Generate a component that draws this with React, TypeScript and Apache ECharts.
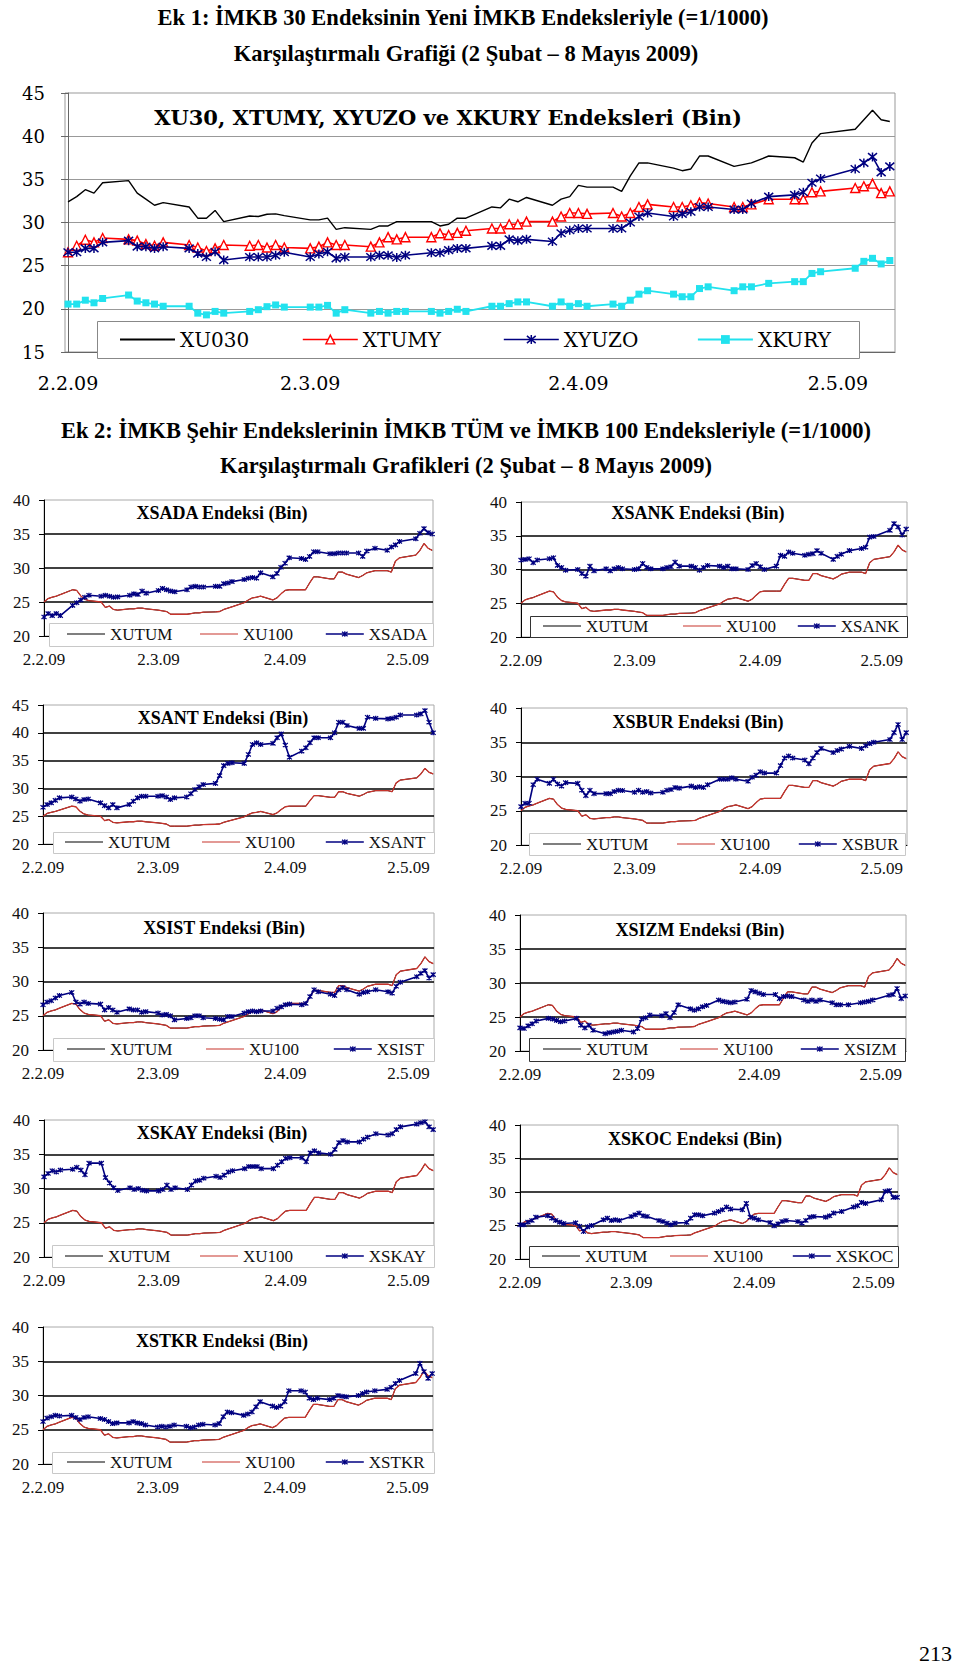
import React, { useEffect, useRef } from 'react';
import * as echarts from 'echarts';

// ---------- DATA ----------
// trading-day offsets (days after 2 Feb 2009)
const tradingDays = [0, 1, 2, 3, 4, 7, 8, 9, 10, 11, 14, 15, 16, 17, 18, 21, 22, 23, 24, 25, 28, 29, 30, 31, 32, 35, 36, 37, 38, 39, 42, 43, 44, 45, 46, 49, 50, 51, 52, 53, 56, 57, 58, 59, 60, 63, 64, 65, 66, 67, 70, 71, 72, 73, 74, 77, 78, 79, 81, 84, 85, 86, 87, 91, 92, 93, 94, 95];
const tickDays = [0, 28, 59, 89];
const tickLabels = ['2.2.09', '2.3.09', '2.4.09', '2.5.09'];

const xu030 = [32.4, 33.0, 33.8, 33.4, 34.6, 34.85, 33.4, 32.7, 32.0, 32.3, 31.8, 30.5, 30.5, 31.4, 30.1, 30.75, 30.7, 30.95, 31.0, 30.8, 30.3, 30.3, 30.5, 29.2, 29.4, 29.2, 29.6, 29.6, 30.1, 30.1, 30.1, 29.6, 29.8, 30.5, 30.5, 31.8, 31.7, 32.7, 32.4, 32.9, 32.0, 32.7, 33.0, 34.3, 34.1, 34.1, 33.6, 35.4, 36.9, 36.9, 36.3, 36.0, 36.2, 37.7, 37.7, 36.5, 36.7, 36.9, 37.7, 37.5, 37.0, 39.2, 40.3, 40.8, 41.9, 43.0, 41.9, 41.7];
const xtumy = [26.55, 27.3, 28.0, 27.7, 28.2, 28.05, 27.9, 27.5, 27.3, 27.7, 27.4, 27.1, 26.7, 27.0, 27.4, 27.3, 27.4, 27.1, 27.4, 27.1, 27.0, 27.2, 27.7, 27.4, 27.4, 27.2, 27.7, 28.3, 28.05, 28.3, 28.3, 28.75, 28.55, 28.8, 29.05, 29.3, 29.3, 29.8, 29.8, 30.1, 30.1, 30.7, 31.1, 31.1, 31.0, 31.1, 30.7, 31.1, 31.8, 32.1, 31.8, 31.8, 32.0, 32.3, 32.2, 31.8, 31.8, 32.1, 32.7, 32.7, 32.7, 33.5, 33.6, 34.0, 34.2, 34.5, 33.4, 33.6];
const xyuzo = [26.55, 26.55, 27.0, 27.0, 27.7, 27.9, 27.2, 27.2, 27.0, 27.2, 27.0, 26.4, 26.0, 26.6, 25.65, 26.0, 26.0, 26.0, 26.2, 26.55, 26.0, 26.35, 26.6, 25.85, 26.0, 26.0, 26.2, 26.2, 25.95, 26.2, 26.5, 26.5, 26.8, 27.0, 27.0, 27.3, 27.3, 28.05, 27.9, 28.05, 27.8, 28.75, 29.1, 29.3, 29.3, 29.3, 29.3, 30.0, 30.7, 31.1, 30.7, 31.0, 31.25, 31.8, 31.8, 31.5, 31.5, 32.2, 33.0, 33.2, 33.5, 34.6, 35.1, 36.2, 36.9, 37.6, 35.8, 36.5];
const xkury = [20.55, 20.55, 21.0, 20.7, 21.2, 21.6, 20.9, 20.7, 20.55, 20.3, 20.3, 19.5, 19.3, 19.7, 19.5, 19.7, 19.9, 20.25, 20.45, 20.2, 20.2, 20.2, 20.4, 19.5, 19.9, 19.5, 19.7, 19.5, 19.7, 19.7, 19.7, 19.5, 19.7, 19.95, 19.7, 20.3, 20.3, 20.6, 20.8, 20.8, 20.3, 20.8, 20.3, 20.6, 20.3, 20.55, 20.3, 21.0, 21.7, 22.1, 21.7, 21.4, 21.4, 22.35, 22.55, 22.1, 22.55, 22.55, 22.95, 23.15, 23.15, 24.1, 24.3, 24.7, 25.5, 25.85, 25.2, 25.6];

const xu100 = [25.0, 25.5, 25.7, 25.85, 26.1, 26.8, 26.7, 25.9, 25.4, 25.2, 25.0, 24.2, 24.4, 23.9, 23.8, 24.0, 24.0, 24.1, 24.1, 24.0, 23.8, 23.7, 23.6, 23.2, 23.2, 23.2, 23.3, 23.4, 23.4, 23.5, 23.55, 23.6, 23.9, 24.1, 24.3, 24.9, 25.3, 25.6, 25.7, 25.85, 25.3, 25.6, 26.2, 26.7, 26.8, 26.8, 26.8, 27.8, 28.7, 28.7, 28.4, 28.4, 29.4, 29.4, 29.1, 28.6, 28.9, 29.3, 29.6, 29.6, 29.4, 31.0, 31.5, 31.9, 32.6, 33.6, 32.9, 32.6];
const xutum = [25.0, 25.5, 25.7, 25.85, 26.1, 26.8, 26.7, 25.9, 25.4, 25.2, 25.0, 24.2, 24.4, 23.9, 23.8, 24.0, 24.0, 24.1, 24.1, 24.0, 23.8, 23.7, 23.6, 23.2, 23.2, 23.2, 23.3, 23.4, 23.4, 23.5, 23.55, 23.6, 23.9, 24.1, 24.3, 24.9, 25.3, 25.6, 25.7, 25.85, 25.3, 25.6, 26.2, 26.7, 26.8, 26.8, 26.8, 27.8, 28.7, 28.7, 28.4, 28.4, 29.4, 29.4, 29.1, 28.6, 28.9, 29.3, 29.6, 29.6, 29.4, 31.0, 31.5, 31.9, 32.6, 33.6, 32.9, 32.6];

const xsada = [22.8, 23.3, 23.0, 23.3, 23.0, 24.5, 24.9, 25.3, 25.7, 26.0, 25.85, 26.0, 25.85, 25.7, 25.75, 26.0, 26.2, 26.1, 26.6, 26.3, 26.7, 27.0, 26.8, 26.6, 26.5, 26.8, 27.2, 27.3, 27.2, 27.2, 27.3, 27.3, 27.7, 27.8, 28.0, 28.3, 28.5, 28.6, 28.5, 29.3, 28.7, 29.2, 30.1, 30.7, 31.5, 31.4, 31.25, 31.7, 32.4, 32.4, 32.1, 32.1, 32.2, 32.2, 32.2, 32.2, 31.7, 32.5, 32.9, 32.6, 33.1, 33.4, 33.9, 34.3, 35.1, 35.8, 35.2, 35.0];
const xsank = [31.4, 31.5, 31.6, 31.0, 31.4, 31.6, 31.75, 30.6, 30.3, 29.9, 30.0, 29.4, 29.0, 30.5, 29.8, 30.1, 29.8, 30.1, 30.3, 30.1, 30.0, 30.1, 30.9, 30.3, 30.1, 30.1, 30.3, 30.4, 31.1, 30.5, 30.5, 30.3, 29.9, 30.3, 30.6, 30.5, 30.3, 30.5, 30.1, 30.1, 30.0, 30.6, 30.9, 30.4, 30.0, 30.5, 32.1, 31.95, 32.6, 32.4, 32.1, 32.25, 32.35, 32.8, 32.4, 31.5, 31.95, 32.25, 32.8, 33.1, 33.3, 34.8, 34.9, 35.8, 36.8, 36.3, 35.1, 36.0];
const xsant = [26.6, 27.1, 27.4, 27.85, 28.3, 28.45, 28.1, 27.7, 28.0, 28.1, 27.4, 26.9, 26.5, 27.1, 26.5, 27.1, 27.7, 28.3, 28.6, 28.6, 28.6, 28.7, 28.45, 28.0, 28.3, 28.45, 29.05, 29.8, 30.3, 30.7, 30.9, 32.3, 34.1, 34.5, 34.6, 34.5, 36.1, 37.9, 38.2, 37.9, 38.1, 39.1, 39.8, 37.8, 35.6, 36.7, 37.3, 38.2, 39.1, 39.1, 39.1, 40.0, 41.9, 41.9, 41.3, 40.8, 40.8, 42.8, 42.6, 42.5, 42.6, 42.8, 43.2, 43.2, 43.4, 44.0, 41.9, 40.0];
const xsbur = [25.6, 26.1, 26.1, 28.8, 29.6, 29.0, 29.6, 28.9, 28.6, 29.1, 29.0, 28.0, 27.2, 28.0, 27.5, 27.5, 27.5, 27.8, 28.0, 27.95, 27.7, 28.0, 27.7, 27.8, 27.6, 27.7, 28.0, 28.1, 28.4, 28.3, 28.6, 28.4, 28.5, 28.4, 28.8, 29.6, 29.6, 29.6, 29.8, 29.6, 29.3, 29.9, 30.2, 30.7, 30.5, 30.5, 31.6, 32.7, 33.0, 32.7, 32.4, 31.85, 32.7, 33.5, 34.1, 33.5, 33.8, 34.0, 34.4, 34.1, 34.5, 34.8, 35.0, 35.4, 36.4, 37.6, 35.4, 36.4];
const xsist = [26.6, 27.0, 27.2, 27.6, 27.95, 28.4, 27.0, 26.7, 27.0, 26.8, 26.7, 25.85, 26.2, 25.85, 25.5, 26.0, 25.85, 25.85, 25.5, 25.6, 25.4, 25.1, 25.2, 25.0, 24.4, 24.6, 24.7, 25.0, 25.0, 24.7, 24.6, 24.5, 24.4, 24.9, 24.9, 25.4, 25.6, 25.7, 25.6, 25.7, 25.7, 26.1, 26.3, 26.6, 26.7, 26.6, 26.8, 27.8, 28.8, 28.5, 28.15, 27.95, 28.8, 29.1, 28.8, 28.15, 28.4, 28.5, 28.8, 28.5, 28.3, 29.3, 29.9, 30.7, 31.2, 31.6, 30.5, 31.0];
const xsizm = [23.4, 23.3, 23.7, 24.0, 24.4, 24.8, 24.7, 24.5, 24.3, 24.4, 24.8, 23.8, 23.4, 23.8, 23.05, 22.55, 22.7, 22.8, 22.9, 23.05, 22.8, 23.3, 24.7, 24.9, 25.3, 25.2, 25.5, 24.9, 25.65, 26.8, 26.2, 26.0, 26.2, 26.5, 26.7, 27.5, 27.3, 27.2, 27.1, 27.2, 27.6, 28.9, 28.7, 28.5, 28.3, 28.3, 27.7, 28.0, 28.1, 28.0, 27.5, 27.3, 27.5, 27.3, 27.5, 27.1, 26.8, 26.8, 26.8, 27.1, 27.2, 27.3, 27.5, 28.2, 28.3, 29.2, 27.7, 28.1];
const xskay = [31.7, 32.2, 32.6, 32.4, 32.7, 32.8, 33.1, 32.7, 32.0, 33.7, 33.7, 31.6, 30.8, 30.1, 29.7, 30.1, 29.85, 30.0, 29.75, 29.65, 29.65, 29.85, 30.5, 29.85, 30.1, 29.85, 30.5, 31.1, 31.2, 31.5, 31.8, 31.6, 31.95, 32.4, 32.6, 32.9, 33.2, 33.2, 33.2, 32.9, 32.9, 33.4, 33.9, 34.4, 34.5, 34.5, 33.9, 35.2, 35.5, 35.2, 35.0, 35.7, 36.7, 37.0, 36.8, 36.8, 37.2, 37.5, 38.0, 37.8, 38.0, 38.6, 39.0, 39.4, 39.6, 39.75, 39.0, 38.6];
const xskoc = [25.1, 25.1, 25.5, 25.75, 26.25, 26.45, 26.1, 25.75, 25.5, 25.3, 25.4, 24.9, 24.1, 24.8, 25.0, 25.85, 26.1, 25.75, 25.85, 25.75, 26.35, 26.6, 26.85, 26.45, 26.35, 25.75, 25.6, 25.35, 25.1, 25.35, 25.45, 26.1, 26.6, 26.6, 26.45, 26.85, 27.1, 27.35, 27.75, 27.45, 27.35, 28.3, 26.25, 26.1, 25.85, 25.45, 24.95, 25.25, 25.6, 25.75, 25.6, 25.35, 25.75, 26.25, 26.35, 26.25, 26.45, 26.85, 27.1, 27.75, 27.95, 28.45, 28.3, 28.85, 30.1, 30.2, 29.2, 29.2];
const xstkr = [26.2, 26.7, 26.9, 27.1, 27.0, 27.1, 26.8, 26.5, 26.8, 26.9, 26.65, 26.5, 26.2, 25.9, 26.0, 26.0, 26.2, 26.0, 25.9, 25.7, 25.4, 25.5, 25.4, 25.5, 25.7, 25.5, 25.3, 25.4, 25.7, 25.8, 25.7, 25.9, 26.9, 27.6, 27.5, 27.1, 27.3, 27.6, 28.35, 29.1, 28.45, 28.25, 28.45, 29.1, 30.7, 30.7, 30.5, 29.6, 29.4, 29.6, 29.4, 29.6, 30.0, 29.9, 29.8, 30.0, 30.3, 30.5, 30.7, 30.9, 31.2, 31.75, 32.2, 33.2, 34.7, 33.5, 32.5, 33.2];

const sectorNames = ['XSADA', 'XSANK', 'XSANT', 'XSBUR', 'XSIST', 'XSIZM', 'XSKAY', 'XSKOC', 'XSTKR'];
const sectorValues = [xsada, xsank, xsant, xsbur, xsist, xsizm, xskay, xskoc, xstkr];
const sectorMax = [40, 40, 45, 40, 40, 40, 40, 40, 40];

// ---------- LAYOUT (page pixels) ----------
const panels = [
  { grid: [44, 500, 389, 136], title: [222, 513], lx: [67, 200, 325], ly: 634, box: [49, 623, 433, 646], bc: '#c8c8c8' },
  { grid: [521, 502, 386, 135], title: [698, 513], lx: [543, 683, 797], ly: 626, box: [530, 616, 907, 637], bc: '#333' },
  { grid: [43, 705, 391, 139], title: [223, 718], lx: [65, 202, 325], ly: 842, box: [53, 832, 434, 853], bc: '#c8c8c8' },
  { grid: [521, 708, 386, 137], title: [698, 722], lx: [543, 677, 798], ly: 844, box: [529, 833, 905, 855], bc: '#c8c8c8' },
  { grid: [43, 913, 391, 137], title: [224, 928], lx: [67, 206, 333], ly: 1049, box: [53, 1038, 434, 1061], bc: '#c8c8c8' },
  { grid: [520, 915, 386, 136], title: [700, 930], lx: [543, 680, 800], ly: 1049, box: [529, 1038, 905, 1061], bc: '#333' },
  { grid: [44, 1120, 390, 137], title: [222, 1133], lx: [65, 200, 325], ly: 1256, box: [52, 1245, 434, 1267], bc: '#c8c8c8' },
  { grid: [520, 1125, 378, 134], title: [695, 1139], lx: [542, 670, 792], ly: 1256, box: [529, 1246, 898, 1267], bc: '#333' },
  { grid: [43, 1327, 390, 137], title: [222, 1341], lx: [67, 202, 325], ly: 1462, box: [52, 1452, 434, 1473], bc: '#c8c8c8' },
];

const SERIF = 'Liberation Serif';
const WIDE = 'DejaVu Serif';
const ASTERISK = 'path://M0,0L10,10M10,0L0,10M5,-1L5,11';
const THIN = 'path://M0,0H40V1.3H0Z';
const NAVY = '#000080';
const CYAN = '#22e2ee';
const RED_S = '#c8342c';

const pairs = (vals: number[]) => tradingDays.map((d, i) => [d, vals[i]]);
const labelFor = (v: number) => {
  const k = tickDays.indexOf(Math.round(v));
  return k >= 0 ? tickLabels[k] : '';
};

function buildOption() {
  const grid: any[] = [];
  const xAxis: any[] = [];
  const yAxis: any[] = [];
  const series: any[] = [];
  const legend: any[] = [];
  const title: any[] = [];
  const graphic: any[] = [];

  // ---- top chart ----
  grid.push({ left: 65, top: 93, width: 830, height: 259, show: true, borderColor: '#999', borderWidth: 1 });
  xAxis.push({
    type: 'value', gridIndex: 0, min: -0.35, max: 95.6,
    axisLine: { show: true, onZero: false, lineStyle: { color: '#666', width: 1 } },
    axisTick: { show: false }, splitLine: { show: false },
    axisLabel: { customValues: tickDays, formatter: labelFor, fontFamily: WIDE, fontSize: 19, color: '#000', margin: 21 },
  });
  yAxis.push({
    type: 'value', gridIndex: 0, min: 15, max: 45, interval: 5,
    axisLine: { show: true, lineStyle: { color: '#666' } },
    axisTick: { show: true, length: 7, lineStyle: { color: '#666' } },
    axisLabel: { fontFamily: WIDE, fontSize: 18, color: '#000', margin: 20 },
    splitLine: { show: true, showMinLine: false, showMaxLine: false, lineStyle: { color: '#999', width: 1 } },
  });
  series.push(
    { name: 'XU030', type: 'line', xAxisIndex: 0, yAxisIndex: 0, data: pairs(xu030), symbol: 'none', lineStyle: { color: '#000', width: 1.4 }, itemStyle: { color: '#000' }, z: 2 },
    { name: 'XTUMY', type: 'line', xAxisIndex: 0, yAxisIndex: 0, data: pairs(xtumy), symbol: 'triangle', symbolSize: 9, lineStyle: { color: '#ff0000', width: 1.6 }, itemStyle: { color: '#fff', borderColor: '#ff0000', borderWidth: 1.4 }, z: 3 },
    { name: 'XYUZO', type: 'line', xAxisIndex: 0, yAxisIndex: 0, data: pairs(xyuzo), symbol: ASTERISK, symbolSize: 9, lineStyle: { color: NAVY, width: 1.6 }, itemStyle: { color: NAVY, borderColor: NAVY, borderWidth: 1.5 }, z: 4 },
    { name: 'XKURY', type: 'line', xAxisIndex: 0, yAxisIndex: 0, data: pairs(xkury), symbol: 'rect', symbolSize: 7, lineStyle: { color: CYAN, width: 1.8 }, itemStyle: { color: CYAN }, z: 3 },
  );
  graphic.push({ type: 'rect', z: 8, shape: { x: 97.5, y: 321.5, width: 762, height: 37 }, style: { fill: '#fff', stroke: '#888', lineWidth: 1 } });
  const topLegendItems = [
    { name: 'XU030', icon: THIN, itemStyle: { color: '#000', borderWidth: 0 } },
    { name: 'XTUMY', itemStyle: { color: '#fff', borderColor: '#ff0000', borderWidth: 1.4 }, lineStyle: { color: '#ff0000', width: 1.6 } },
    { name: 'XYUZO', itemStyle: { color: NAVY, borderColor: NAVY, borderWidth: 1.5 }, lineStyle: { color: NAVY, width: 1.6 } },
    { name: 'XKURY', itemStyle: { color: CYAN, borderWidth: 0 }, lineStyle: { color: CYAN, width: 1.8 } },
  ];
  const topLegendX = [120, 302, 503, 697];
  topLegendItems.forEach((it, k) => {
    legend.push({
      data: [it], left: topLegendX[k], top: 339.5 - 10, padding: 0, itemWidth: 55, itemHeight: 11,
      selectedMode: false, z: 12,
      textStyle: { fontFamily: WIDE, fontSize: 20, lineHeight: 20, color: '#000' },
    });
  });

  // ---- sector charts ----
  panels.forEach((p, i) => {
    const gi = i + 1;
    const name = sectorNames[i];
    grid.push({ left: p.grid[0], top: p.grid[1], width: p.grid[2], height: p.grid[3], show: true, borderColor: '#aaa', borderWidth: 1 });
    xAxis.push({
      type: 'value', gridIndex: gi, min: 0, max: 95.2,
      axisLine: { show: true, onZero: false, lineStyle: { color: '#000', width: 1 } },
      axisTick: { show: false }, splitLine: { show: false },
      axisLabel: { customValues: tickDays, formatter: labelFor, fontFamily: SERIF, fontSize: 17, color: '#111', margin: 15 },
    });
    yAxis.push({
      type: 'value', gridIndex: gi, min: 20, max: sectorMax[i], interval: 5,
      axisLine: { show: true, lineStyle: { color: '#000' } },
      axisTick: { show: true, length: 5, lineStyle: { color: '#000' } },
      axisLabel: { fontFamily: SERIF, fontSize: 17, color: '#111', margin: 14 },
      splitLine: { show: true, showMinLine: false, showMaxLine: false, lineStyle: { color: '#000', width: 1.6 } },
    });
    series.push(
      { name: 'XUTUM', type: 'line', xAxisIndex: gi, yAxisIndex: gi, data: pairs(xutum), symbol: 'none', lineStyle: { color: '#000', width: 1 }, itemStyle: { color: '#000' }, z: 2 },
      { name: 'XU100', type: 'line', xAxisIndex: gi, yAxisIndex: gi, data: pairs(xu100), symbol: 'none', lineStyle: { color: RED_S, width: 1.3 }, itemStyle: { color: RED_S }, z: 3 },
      { name, type: 'line', xAxisIndex: gi, yAxisIndex: gi, data: pairs(sectorValues[i]), symbol: ASTERISK, symbolSize: 5, lineStyle: { color: NAVY, width: 1.6 }, itemStyle: { color: NAVY, borderColor: NAVY, borderWidth: 1.2 }, z: 4 },
    );
    title.push({
      text: `${name} Endeksi (Bin)`, left: p.title[0], top: p.title[1] - 9, textAlign: 'center', padding: 0,
      textStyle: { fontFamily: SERIF, fontWeight: 'bold', fontSize: 18, color: '#000' },
    });
    const [bx0, by0, bx1, by1] = p.box;
    graphic.push({ type: 'rect', z: 8, shape: { x: bx0 + 0.5, y: by0 + 0.5, width: bx1 - bx0, height: by1 - by0 }, style: { fill: '#fff', stroke: p.bc, lineWidth: 1 } });
    const items = [
      { name: 'XUTUM', icon: THIN, itemStyle: { color: '#000', borderWidth: 0 } },
      { name: 'XU100', icon: THIN, itemStyle: { color: RED_S, borderWidth: 0 } },
      { name, itemStyle: { color: NAVY, borderColor: NAVY, borderWidth: 1.2 }, lineStyle: { color: NAVY, width: 1.6 } },
    ];
    items.forEach((it, k) => {
      legend.push({
        data: [it], left: p.lx[k], top: p.ly - 8.5, padding: 0, itemWidth: 38, itemHeight: 7,
        selectedMode: false, z: 12,
        textStyle: { fontFamily: SERIF, fontSize: 17, lineHeight: 17, color: '#111' },
      });
    });
  });

  // ---- headings ----
  const headStyle = { fontFamily: SERIF, fontWeight: 'bold', fontSize: 22.5, color: '#000' };
  title.push(
    { text: 'Ek 1: İMKB 30 Endeksinin Yeni İMKB Endeksleriyle (=1/1000)', left: 463, top: 17 - 11, textAlign: 'center', padding: 0, textStyle: headStyle },
    { text: 'Karşılaştırmalı Grafiği (2 Şubat – 8 Mayıs 2009)', left: 466, top: 53 - 11, textAlign: 'center', padding: 0, textStyle: headStyle },
    { text: 'XU30, XTUMY, XYUZO ve XKURY Endeksleri (Bin)', left: 448, top: 117 - 10.5, textAlign: 'center', padding: 0, textStyle: { fontFamily: WIDE, fontWeight: 'bold', fontSize: 21, color: '#000' } },
    { text: 'Ek 2: İMKB Şehir Endekslerinin İMKB TÜM ve İMKB 100 Endeksleriyle (=1/1000)', left: 466, top: 430 - 11, textAlign: 'center', padding: 0, textStyle: headStyle },
    { text: 'Karşılaştırmalı Grafikleri (2 Şubat – 8 Mayıs 2009)', left: 466, top: 465 - 11, textAlign: 'center', padding: 0, textStyle: headStyle },
    { text: '213', right: 8, top: 1653 - 11, padding: 0, textStyle: { fontFamily: SERIF, fontWeight: 'normal', fontSize: 22, color: '#000' } },
  );

  return { animation: false, backgroundColor: '#fff', grid, xAxis, yAxis, series, legend, title, graphic };
}

export default function App() {
  const ref = useRef<HTMLDivElement>(null);
  useEffect(() => {
    if (!ref.current) return;
    const chart = echarts.init(ref.current, null, { renderer: 'svg' });
    chart.setOption(buildOption() as any);
    return () => chart.dispose();
  }, []);
  return <div ref={ref} style={{ position: 'absolute', left: 0, top: 0, width: 960, height: 1665, background: '#fff' }} />;
}
